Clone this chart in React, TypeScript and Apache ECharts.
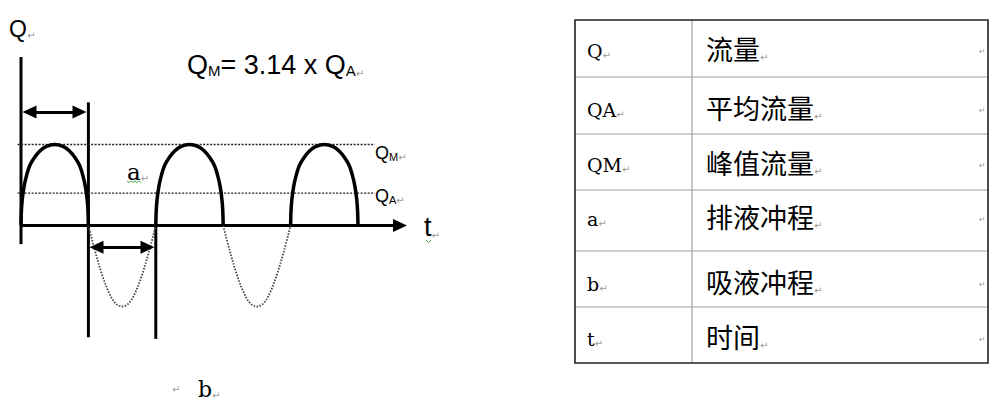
import React, { useEffect, useRef } from "react";
import * as echarts from "echarts";

// Half-wave (discharge) profile: fraction of half period -> fraction of peak flow
const archX = [0, 0.006, 0.02, 0.045, 0.08, 0.13, 0.2, 0.28, 0.37, 0.5, 0.63, 0.72, 0.8, 0.87, 0.92, 0.955, 0.98, 0.994, 1];
const archY = [0, 0.18, 0.33, 0.48, 0.61, 0.74, 0.84, 0.92, 0.975, 1, 0.975, 0.92, 0.84, 0.74, 0.61, 0.48, 0.33, 0.18, 0];
// Suction half-wave (dotted) profile
const troughX = [0, 0.1, 0.2, 0.3, 0.4, 0.5, 0.6, 0.7, 0.8, 0.9, 1];
const troughY = [0, -0.32, -0.6, -0.82, -0.96, -1, -0.96, -0.82, -0.6, -0.32, 0];
const archStarts = [0, 2, 4];
const troughStarts = [1, 3];
const qmLevel = 1;
const qaLevel = 0.4;
const levelSpan = [-0.05, 5.25];

const tableSymbols = ["Q", "QA", "QM", "a", "b", "t"];
const tableMeanings = ["流量", "平均流量", "峰值流量", "排液冲程", "吸液冲程", "时间"];

const SANS = "Liberation Sans, Arial, sans-serif";
const SERIF = "DejaVu Serif, Liberation Serif, serif";
const CJK = "Noto Sans CJK SC, sans-serif";
const RET = { fontSize: 10, fill: "#9a9a9a", fontFamily: "DejaVu Sans" };

function seg(pts: number[][], width: number, type: any = "solid", color = "#000") {
  return {
    type: "line",
    data: pts,
    symbol: "none",
    silent: true,
    clip: false,
    lineStyle: { color, width, type, cap: "butt" },
  };
}

function arrowLine(from: number[], to: number[], symbol: string[]) {
  return {
    type: "line",
    data: [],
    symbol: "none",
    silent: true,
    clip: false,
    markLine: {
      silent: true,
      animation: false,
      symbol,
      symbolSize: [13, 14],
      label: { show: false },
      lineStyle: { color: "#000", width: 3, type: "solid" },
      emphasis: { disabled: true },
      data: [[{ coord: from }, { coord: to }]],
    },
  };
}

export default function App() {
  const ref = useRef<HTMLDivElement>(null);
  useEffect(() => {
    document.body.style.margin = "0";
    const chart = echarts.init(ref.current!, null, { renderer: "svg" });

    const series: any[] = [];
    // axes
    series.push(seg([[0, 2.08], [0, -0.23]], 3));
    series.push(seg([[0, 0], [5.6, 0]], 3));
    series.push(arrowLine([5.3, 0], [5.623, 0], ["none", "triangle"]));
    // stroke boundary lines
    series.push(seg([[1, 1.52], [1, -1.38]], 3));
    series.push(seg([[2, 0], [2, -1.4]], 3));
    // double arrows
    series.push(arrowLine([0.126, 1.4], [0.868, 1.4], ["triangle", "triangle"]));
    series.push(arrowLine([1.12, -0.27], [1.877, -0.27], ["triangle", "triangle"]));
    // level lines
    series.push(seg([[levelSpan[0], qmLevel], [levelSpan[1], qmLevel]], 1.3, [2, 1.5], "#222"));
    series.push(seg([[levelSpan[0], qaLevel], [levelSpan[1], qaLevel]], 1.3, [2, 1.5], "#222"));
    // suction strokes (dotted)
    troughStarts.forEach((s) => {
      series.push({
        type: "line",
        data: troughX.map((x, k) => [s + x, troughY[k]]),
        smooth: 0.35,
        symbol: "none",
        silent: true,
        clip: false,
        lineStyle: { color: "#444", width: 1.8, type: [1.5, 1.5] },
      });
    });
    // discharge strokes
    archStarts.forEach((s) => {
      series.push({
        type: "line",
        data: archX.map((x, k) => [s + x, archY[k]]),
        smooth: 0.2,
        symbol: "none",
        silent: true,
        clip: false,
        lineStyle: { color: "#000", width: 3.5 },
      });
    });

    const rowLines = [20, 77, 134, 190, 251, 307, 363];
    const rowCenters = [47, 106, 161, 215, 280, 335];
    const tableX0 = 575;
    const tableX1 = 988;
    const colX = 692;

    const graphics: any[] = [];
    // table inner lines
    rowLines.slice(1, -1).forEach((y) => {
      graphics.push({
        type: "line",
        shape: { x1: tableX0, y1: y, x2: tableX1, y2: y },
        style: { stroke: "#a0a0a0", lineWidth: 1.2 },
      });
    });
    graphics.push({
      type: "line",
      shape: { x1: colX, y1: rowLines[0], x2: colX, y2: rowLines[rowLines.length - 1] },
      style: { stroke: "#a0a0a0", lineWidth: 1.2 },
    });
    graphics.push({
      type: "rect",
      shape: { x: tableX0, y: rowLines[0], width: tableX1 - tableX0, height: rowLines[6] - rowLines[0] },
      style: { stroke: "#222", lineWidth: 1.6, fill: "none" },
    });
    tableSymbols.forEach((s, i) => {
      graphics.push({
        type: "text",
        x: 587,
        y: rowCenters[i] + 2,
        style: {
          text: `{m|${s}}{r|↵}`,
          verticalAlign: "middle",
          rich: {
            m: { fontSize: 19, fontFamily: SERIF, fill: "#000", verticalAlign: "bottom", lineHeight: 22 },
            r: { ...RET, verticalAlign: "bottom", lineHeight: 20 },
          },
        },
      });
      graphics.push({
        type: "text",
        x: 706,
        y: rowCenters[i],
        style: {
          text: `{m|${tableMeanings[i]}}{r|↵}`,
          verticalAlign: "middle",
          rich: {
            m: { fontSize: 27, fontFamily: CJK, fill: "#000", verticalAlign: "bottom", lineHeight: 30 },
            r: { ...RET, verticalAlign: "bottom", lineHeight: 24 },
          },
        },
      });
      graphics.push({
        type: "text",
        x: 979,
        y: rowCenters[i] + 4,
        style: { text: "↵", ...RET, fontSize: 8, verticalAlign: "middle" },
      });
    });

    // diagram labels
    graphics.push({
      type: "text",
      x: 9,
      y: 27,
      style: {
        text: "{m|Q}{r|↵}",
        verticalAlign: "middle",
        rich: {
          m: { fontSize: 23, fontFamily: SANS, fill: "#000", verticalAlign: "bottom", lineHeight: 26 },
          r: { ...RET, verticalAlign: "bottom", lineHeight: 23 },
        },
      },
    });
    graphics.push({
      type: "text",
      x: 187,
      y: 63,
      style: {
        text: "{m|Q}{s|M}{m|= 3.14 x Q}{s|A}{r|↵}",
        verticalAlign: "middle",
        rich: {
          m: { fontSize: 27, fontFamily: SANS, fill: "#000", verticalAlign: "bottom", lineHeight: 30 },
          s: { fontSize: 15, fontFamily: SANS, fill: "#000", verticalAlign: "bottom", lineHeight: 28 },
          r: { ...RET, verticalAlign: "bottom", lineHeight: 28 },
        },
      },
    });
    const levelLabel = (sub: string, y: number) => ({
      type: "text",
      x: 375,
      y,
      style: {
        text: `{m|Q}{s|${sub}}{r|↵}`,
        verticalAlign: "middle",
        rich: {
          m: { fontSize: 18, fontFamily: SANS, fill: "#000", verticalAlign: "bottom", lineHeight: 20 },
          s: { fontSize: 11, fontFamily: SANS, fill: "#000", verticalAlign: "bottom", lineHeight: 19 },
          r: { ...RET, verticalAlign: "bottom", lineHeight: 19 },
        },
      },
    });
    graphics.push(levelLabel("M", 152));
    graphics.push(levelLabel("A", 195));
    graphics.push({
      type: "text",
      x: 127,
      y: 170,
      style: {
        text: "{m|a}{r|↵}",
        verticalAlign: "middle",
        rich: {
          m: { fontSize: 23, fontFamily: SERIF, fill: "#000", verticalAlign: "bottom", lineHeight: 26 },
          r: { ...RET, verticalAlign: "bottom", lineHeight: 24 },
        },
      },
    });
    graphics.push({
      type: "polyline",
      shape: { points: [[127, 181], [129, 182.5], [131, 181], [133, 182.5], [135, 181], [137, 182.5], [139, 181], [141, 182.5]] },
      style: { stroke: "#4caf50", lineWidth: 1, fill: "none" },
    });
    graphics.push({
      type: "text",
      x: 424,
      y: 225,
      style: {
        text: "{m|t}{r|↵}",
        verticalAlign: "middle",
        rich: {
          m: { fontSize: 27, fontFamily: SANS, fill: "#000", verticalAlign: "bottom", lineHeight: 30 },
          r: { ...RET, verticalAlign: "bottom", lineHeight: 28 },
        },
      },
    });
    graphics.push({
      type: "polyline",
      shape: { points: [[426, 240], [428.5, 242.5], [431, 240]] },
      style: { stroke: "#4caf50", lineWidth: 1, fill: "none" },
    });
    graphics.push({
      type: "text",
      x: 172,
      y: 389,
      style: { text: "↵", ...RET, verticalAlign: "middle" },
    });
    graphics.push({
      type: "text",
      x: 198,
      y: 389,
      style: {
        text: "{m|b}{r|↵}",
        verticalAlign: "middle",
        rich: {
          m: { fontSize: 22, fontFamily: SERIF, fill: "#000", verticalAlign: "bottom", lineHeight: 22 },
          r: { ...RET, verticalAlign: "bottom", lineHeight: 20 },
        },
      },
    });

    chart.setOption({
      animation: false,
      backgroundColor: "#fff",
      grid: { left: 21 - 0.2 * 67.4, width: 6.2 * 67.4, top: 225.5 - 81 * 2.5, height: 81 * 4.5 },
      xAxis: { type: "value", min: -0.2, max: 6, show: false },
      yAxis: { type: "value", min: -2, max: 2.5, show: false },
      tooltip: { show: false },
      series,
      graphic: graphics,
    });
    return () => chart.dispose();
  }, []);
  return (
    <div
      ref={ref}
      style={{ position: "absolute", left: 0, top: 0, width: 992, height: 403, background: "#fff" }}
    />
  );
}
